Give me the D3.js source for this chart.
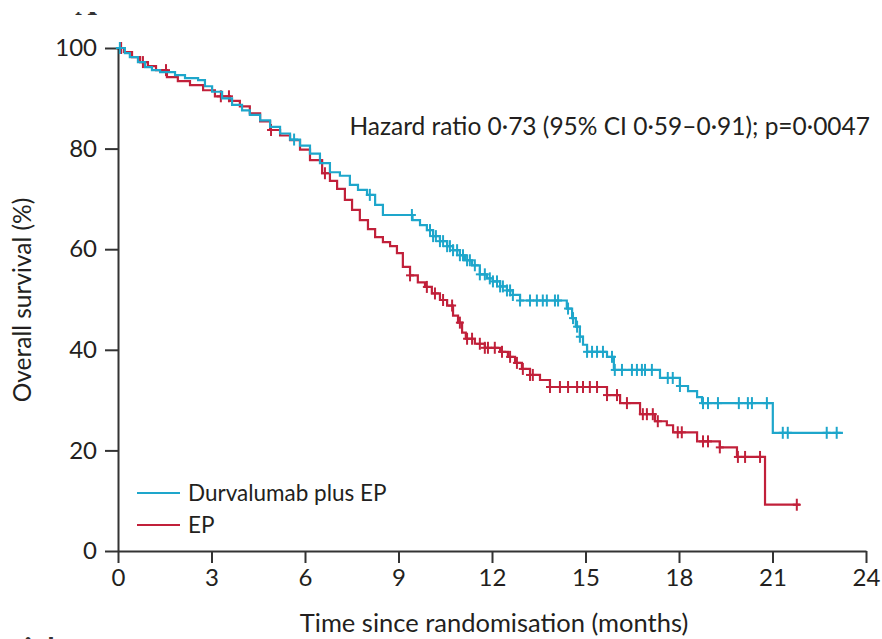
<!DOCTYPE html>
<html><head><meta charset="utf-8">
<script src="https://cdn.jsdelivr.net/npm/d3@7/dist/d3.min.js"></script>
<style>body{margin:0;background:#fff} svg{display:block}</style>
</head><body><svg id="c" width="882" height="639"></svg>
<script>
const xTicks = [0, 3, 6, 9, 12, 15, 18, 21, 24];
const yTicks = [0, 20, 40, 60, 80, 100];
const seriesNames = ["Durvalumab plus EP", "EP"];

const durvaTimes = [0,0.22,0.38,0.64,0.87,1.09,1.35,1.83,2.15,2.57,2.79,3.02,3.34,3.66,3.98,4.23,4.56,4.88,5.2,5.52,5.84,6.16,6.48,6.8,7.12,7.44,7.7,7.99,8.25,8.5,9.45,9.69,9.91,10.11,10.33,10.56,10.75,10.97,11.13,11.36,11.61,11.84,12.03,12.26,12.48,12.67,12.9,14.4,14.57,14.69,14.82,14.92,15.05,15.69,15.91,17.39,18.03,18.29,18.58,18.74,21.01];
const durvaSurv  = [100,99,98.2,97.2,96.2,95.6,95.2,94.6,94.0,93.6,92.4,91.3,90.0,88.7,87.6,86.7,85.6,84.3,83.0,81.8,80.6,79.0,77.1,75.3,74.6,72.8,71.8,70.8,68.8,66.8,65.8,64.8,63.8,62.6,61.6,60.6,59.8,58.8,57.8,56.8,55.0,54.2,53.6,52.6,51.8,50.9,49.8,48.2,46.3,44.6,42.6,41.0,39.6,38.6,36.0,34.4,32.8,31.8,30.6,29.4,23.5];
const durvaEnd = 23.26;
const durvaCensor = [0.06,5.65,8.08,9.43,10.01,10.11,10.20,10.33,10.43,10.56,10.65,10.75,10.88,10.97,11.07,11.20,11.29,11.45,11.61,11.77,11.93,12.03,12.16,12.26,12.35,12.48,12.58,12.67,12.90,13.22,13.44,13.63,13.76,14.02,14.12,14.44,14.60,14.73,14.82,15.05,15.21,15.37,15.56,15.85,15.94,16.17,16.49,16.65,16.81,16.91,17.13,17.64,17.80,18.03,18.77,18.93,19.25,19.92,20.21,20.34,20.82,21.33,21.49,22.74,23.06];

const epTimes = [0,0.19,0.45,0.71,0.96,1.22,1.57,1.92,2.31,2.73,3.11,3.59,3.91,4.23,4.56,4.88,5.2,5.52,5.84,6.16,6.55,6.8,7.03,7.28,7.51,7.76,8.02,8.25,8.5,8.73,8.95,9.14,9.37,9.62,9.85,10.07,10.33,10.56,10.75,10.91,11.04,11.16,11.45,11.77,12.26,12.51,12.74,12.96,13.22,13.54,13.86,15.69,16.11,16.75,17.23,17.61,17.81,18.58,19.31,19.86,20.76];
const epSurv  = [100,99.2,98.2,97.2,96.4,95.6,94.2,93.4,92.6,91.6,90.4,89.5,88.4,87.0,85.4,83.7,82.6,81.7,79.8,77.7,75.1,73.6,72.0,69.8,67.8,65.8,64.0,62.4,61.4,60.6,59.2,56.5,54.8,53.4,52.5,51.2,49.9,48.8,46.8,45.4,43.4,42.2,41.2,40.4,39.6,38.6,37.4,36.2,35.0,34.0,32.6,31.0,29.4,27.2,25.8,25.0,23.6,21.8,20.6,18.7,9.2];
const epEnd = 21.88;
const epCensor = [0.10,0.80,1.54,3.30,3.56,4.91,6.64,9.37,9.91,10.17,10.43,10.72,10.97,11.20,11.36,11.61,11.77,11.87,12.09,12.32,12.58,12.80,12.99,13.22,13.31,13.86,14.18,14.44,14.73,14.92,15.14,15.37,15.69,16.01,16.33,16.84,16.97,17.16,17.32,17.96,18.09,18.77,18.93,19.31,19.89,20.12,20.60,21.78];

const colors = ["#1ea6cb", "#c1203a"];
const FONT = "Lato, 'Open Sans', sans-serif";
const ink = "#231f20";

const svg = d3.select("#c");
const x = d3.scaleLinear().domain([0, 24]).range([118, 866]);
const y = d3.scaleLinear().domain([0, 100]).range([551, 48]);

// fragments of neighbouring page content (cropped at the edges)
svg.append("defs").append("clipPath").attr("id","topclip")
  .append("rect").attr("x",60).attr("y",12).attr("width",60).attr("height",5);
svg.append("text").attr("x",86).attr("y",15).attr("text-anchor","middle")
  .attr("clip-path","url(#topclip)")
  .style("font-family","'Liberation Serif', serif").style("font-size","30px").style("font-weight","bold").attr("fill","#333").text("A");
svg.append("text").attr("x",2).attr("y",660)
  .style("font-family",FONT).style("font-size","30px").style("font-weight","bold").attr("fill","#333").text("trial");

// axes
const xAxis = svg.append("g").attr("transform","translate(0,551)")
  .call(d3.axisBottom(x).tickValues(xTicks).tickSize(12).tickSizeOuter(0).tickPadding(6).tickFormat(d3.format("d")));
const yAxis = svg.append("g").attr("transform","translate(118,0)")
  .call(d3.axisLeft(y).tickValues(yTicks).tickSize(13).tickSizeOuter(0).tickPadding(8).tickFormat(d3.format("d")));
[xAxis, yAxis].forEach(g => {
  g.select(".domain").attr("stroke","#333").attr("stroke-width",2);
  g.selectAll(".tick line").attr("stroke","#333").attr("stroke-width",2);
  g.selectAll(".tick text").style("font-family",FONT).style("font-size","24px").attr("fill",ink);
});

// axis titles
svg.append("text").attr("x",494).attr("y",632).attr("text-anchor","middle")
  .style("font-family",FONT).style("font-size","25.5px").attr("fill",ink)
  .text("Time since randomisation (months)");
svg.append("text").attr("transform","translate(31,300) rotate(-90)").attr("text-anchor","middle")
  .style("font-family",FONT).style("font-size","24.5px").attr("fill",ink)
  .text("Overall survival (%)");

// annotation
svg.append("text").attr("x",870).attr("y",135).attr("text-anchor","end")
  .style("font-family",FONT).style("font-size","24.5px").attr("fill",ink)
  .text("Hazard ratio 0·73 (95% CI 0·59–0·91); p=0·0047");

// curves
const series = [
  {times: durvaTimes, surv: durvaSurv, end: durvaEnd, censor: durvaCensor, color: colors[0]},
  {times: epTimes, surv: epSurv, end: epEnd, censor: epCensor, color: colors[1]}
];
const line = d3.line().x(d => x(d[0])).y(d => y(d[1])).curve(d3.curveStepAfter);
function survAt(s, t) {
  const i = d3.bisectRight(s.times, t) - 1;
  return s.surv[Math.max(0, i)];
}
series.slice().reverse().forEach(s => {
  const pts = s.times.map((t, i) => [t, s.surv[i]]);
  pts.push([s.end, s.surv[s.surv.length - 1]]);
  const g = svg.append("g");
  g.append("path").attr("d", line(pts)).attr("fill","none")
    .attr("stroke", s.color).attr("stroke-width", 2.2);
  s.censor.forEach(t => {
    const cx = x(t), cy = y(survAt(s, t));
    g.append("line").attr("x1",cx).attr("x2",cx).attr("y1",cy-6).attr("y2",cy+6)
      .attr("stroke",s.color).attr("stroke-width",2);
    g.append("line").attr("x1",cx-4).attr("x2",cx+4).attr("y1",cy).attr("y2",cy)
      .attr("stroke",s.color).attr("stroke-width",2);
  });
});

// legend
const leg = svg.append("g");
seriesNames.forEach((n, i) => {
  const ly = 493 + i * 32;
  leg.append("line").attr("x1",137).attr("x2",180).attr("y1",ly).attr("y2",ly)
    .attr("stroke",colors[i]).attr("stroke-width",2.2);
  leg.append("text").attr("x",188).attr("y",ly+8)
    .style("font-family",FONT).style("font-size","22.5px").attr("fill",ink).text(n);
});
</script></body></html>
